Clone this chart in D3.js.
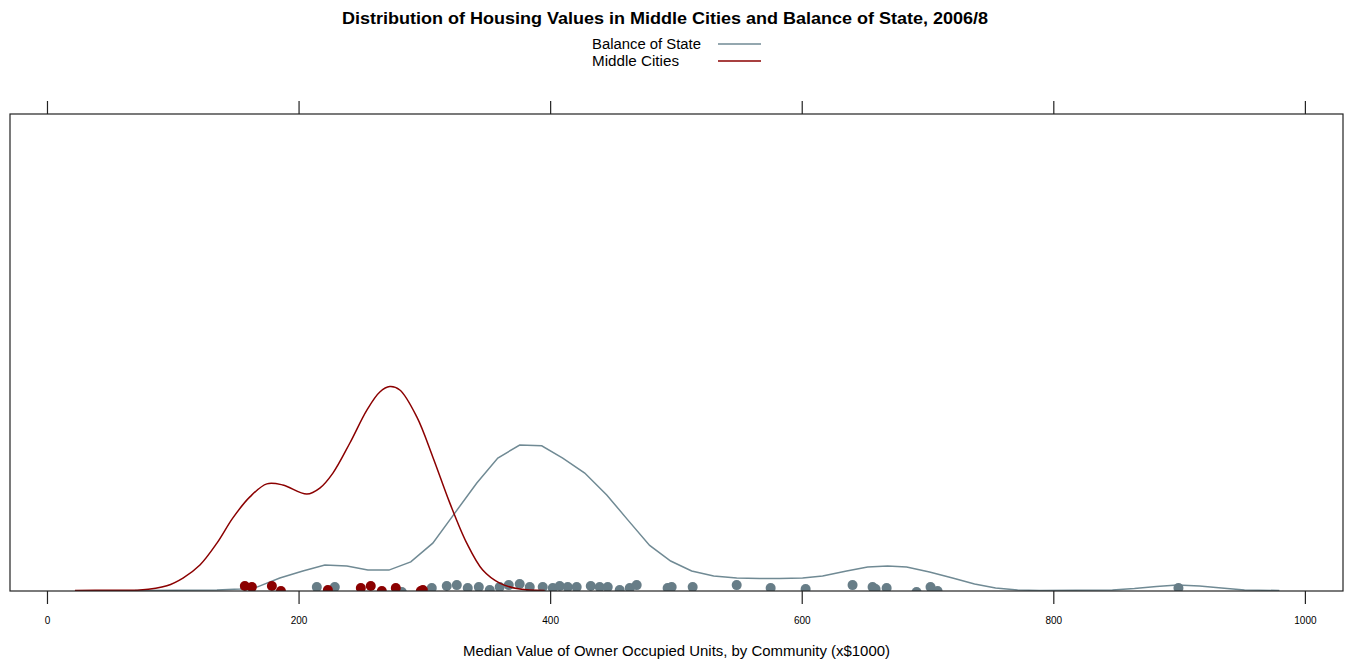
<!DOCTYPE html>
<html>
<head>
<meta charset="utf-8">
<script src="https://cdn.jsdelivr.net/npm/d3@7"></script>
<style>
  html, body { margin: 0; padding: 0; background: #fff; }
  svg { display: block; }
  text { font-family: "Liberation Sans", Arial, Helvetica, sans-serif; fill: #000; }
</style>
</head>
<body>
<svg id="chart" width="1356" height="664"></svg>
<script>
// ---------- DATA ----------
const title = "Distribution of Housing Values in Middle Cities and Balance of State, 2006/8";
const xLabel = "Median Value of Owner Occupied Units, by Community (x$1000)";
const seriesNames = ["Balance of State", "Middle Cities"];
const xTicks = [0, 200, 400, 600, 800, 1000];

// Density curves (x in $1000, density x 1000)
const balanceCurveX = [70, 135.1, 153.4, 166.9, 185.1, 203.4, 220.9, 238.4, 255.1, 271.8, 289.2, 306.7, 324.2, 341.7, 358.4, 375.8, 393.3, 410.0, 427.5, 445.0, 461.7, 479.1, 495.8, 512.5, 530.0, 548.3, 566.5, 582.4, 600.7, 616.6, 635.7, 652.4, 668.3, 683.4, 701.6, 719.9, 737.4, 754.1, 771.6, 789.0, 847.0, 864.5, 882.0, 898.7, 916.2, 933.7, 952.0, 979.7];
const balanceCurveY = [0, 0.02, 0.05, 0.12, 0.44, 0.69, 0.90, 0.86, 0.72, 0.72, 1.01, 1.67, 2.73, 3.79, 4.67, 5.13, 5.10, 4.67, 4.14, 3.37, 2.49, 1.59, 1.04, 0.69, 0.51, 0.44, 0.42, 0.42, 0.44, 0.51, 0.69, 0.83, 0.86, 0.83, 0.65, 0.44, 0.23, 0.09, 0.02, 0, 0.02, 0.07, 0.14, 0.19, 0.16, 0.09, 0.02, 0];

const middleCurveX = [22.2, 50.0, 73.9, 95.3, 108.1, 121.6, 135.1, 147.8, 161.3, 174.8, 187.5, 206.6, 216.9, 227.3, 240.8, 254.3, 264.6, 272.5, 280.5, 294.0, 306.7, 320.2, 333.7, 346.4, 359.9, 375.8, 395.7];
const middleCurveY = [0, 0.01, 0.02, 0.17, 0.44, 0.90, 1.67, 2.56, 3.30, 3.76, 3.72, 3.40, 3.61, 4.14, 5.20, 6.36, 7.00, 7.19, 7.07, 6.12, 4.71, 3.09, 1.67, 0.72, 0.26, 0.05, 0];

// Community values (jittered rug points: x, small vertical jitter)
const balancePointsX = [214.5, 228.8, 282.1, 305.9, 317.8, 325.8, 334.5, 343.3, 352.0, 359.9, 367.1, 375.8, 383.8, 394.1, 402.1, 407.6, 414.0, 421.1, 432.3, 439.4, 445.8, 455.3, 463.3, 468.8, 493.4, 496.6, 513.3, 548.3, 575.3, 603.1, 640.4, 656.3, 658.7, 667.5, 691.3, 702.4, 708.0, 899.5];
const balancePointsJitter = [0.12, 0.12, -0.05, 0.09, 0.16, 0.19, 0.09, 0.12, 0.02, 0.12, 0.19, 0.23, 0.12, 0.12, 0.09, 0.16, 0.12, 0.12, 0.16, 0.12, 0.12, 0.02, 0.09, 0.19, 0.09, 0.12, 0.12, 0.19, 0.09, 0.05, 0.19, 0.12, 0.05, 0.09, -0.05, 0.12, -0.02, 0.09];

const middlePointsX = [157.3, 162.9, 178.8, 186.0, 223.3, 249.5, 257.4, 266.2, 277.3, 297.2, 298.8];
const middlePointsJitter = [0.16, 0.12, 0.16, -0.02, 0.02, 0.09, 0.16, -0.02, 0.09, -0.02, 0.02];

const colors = ["#708a94", "#8B0000"];
const pointColors = ["#677d87", "#8B0000"];

// ---------- LAYOUT ----------
const svg = d3.select("#chart");
const panel = { left: 10, right: 1343, top: 114, bottom: 591 };

const x = d3.scaleLinear().domain([-29.4, 1030.3]).range([panel.left, panel.right]);
const y = d3.scaleLinear().domain([0, 16.8]).range([590.5, panel.top]);

// Title
svg.append("text")
  .attr("x", 342).attr("y", 24)
  .attr("textLength", 646).attr("lengthAdjust", "spacingAndGlyphs")
  .style("font-weight", "bold").style("font-size", "16px")
  .text(title);

// Legend
const legendWidths = [109, 87];
const legend = svg.append("g");
seriesNames.forEach((name, i) => {
  const ly = 44 + i * 17;
  legend.append("text")
    .attr("x", 592).attr("y", ly + 5)
    .attr("textLength", legendWidths[i]).attr("lengthAdjust", "spacingAndGlyphs")
    .style("font-size", "14px")
    .text(name);
  legend.append("line")
    .attr("x1", 718).attr("x2", 761)
    .attr("y1", ly).attr("y2", ly)
    .attr("stroke", colors[i]).attr("stroke-width", 1.5);
});

// Clip
svg.append("clipPath").attr("id", "clip")
  .append("rect")
  .attr("x", panel.left).attr("y", panel.top)
  .attr("width", panel.right - panel.left).attr("height", panel.bottom - panel.top);

const plot = svg.append("g").attr("clip-path", "url(#clip)");

const series = [
  { cx: balanceCurveX, cy: balanceCurveY, px: balancePointsX, pj: balancePointsJitter, curve: d3.curveLinear },
  { cx: middleCurveX, cy: middleCurveY, px: middlePointsX, pj: middlePointsJitter, curve: d3.curveCatmullRom }
];

series.forEach((s, i) => {
  const line = d3.line().x(d => x(d[0])).y(d => y(d[1])).curve(s.curve);
  plot.append("path")
    .datum(s.cx.map((v, k) => [v, s.cy[k]]))
    .attr("d", line)
    .attr("fill", "none")
    .attr("stroke", colors[i])
    .attr("stroke-width", 1.5);
  plot.selectAll(null)
    .data(s.px.map((v, k) => [v, s.pj[k]]))
    .enter().append("circle")
    .attr("cx", d => x(d[0]))
    .attr("cy", d => y(d[1]))
    .attr("r", 5)
    .attr("fill", pointColors[i]);
});

// Panel frame
svg.append("rect")
  .attr("x", panel.left).attr("y", panel.top)
  .attr("width", panel.right - panel.left).attr("height", panel.bottom - panel.top)
  .attr("fill", "none").attr("stroke", "#222").attr("stroke-width", 1.2);

// Axes
const bottomAxis = d3.axisBottom(x).tickValues(xTicks).tickFormat(d3.format("d"))
  .tickSize(13).tickPadding(13).tickSizeOuter(0);
const gB = svg.append("g").attr("transform", `translate(0,${panel.bottom})`).call(bottomAxis);
gB.select(".domain").remove();
gB.selectAll(".tick line").attr("stroke", "#222").attr("stroke-width", 1.2);
gB.selectAll(".tick text").style("font-size", "10px").attr("fill", "#000")
  .style("font-family", "'Liberation Sans', Arial, sans-serif");

const topAxis = d3.axisTop(x).tickValues(xTicks).tickSize(13).tickFormat("").tickSizeOuter(0);
const gT = svg.append("g").attr("transform", `translate(0,${panel.top})`).call(topAxis);
gT.select(".domain").remove();
gT.selectAll(".tick line").attr("stroke", "#222").attr("stroke-width", 1.2);

// X label
svg.append("text")
  .attr("x", 463).attr("y", 656)
  .attr("textLength", 427).attr("lengthAdjust", "spacingAndGlyphs")
  .style("font-size", "14px")
  .text(xLabel);
</script>
</body>
</html>
